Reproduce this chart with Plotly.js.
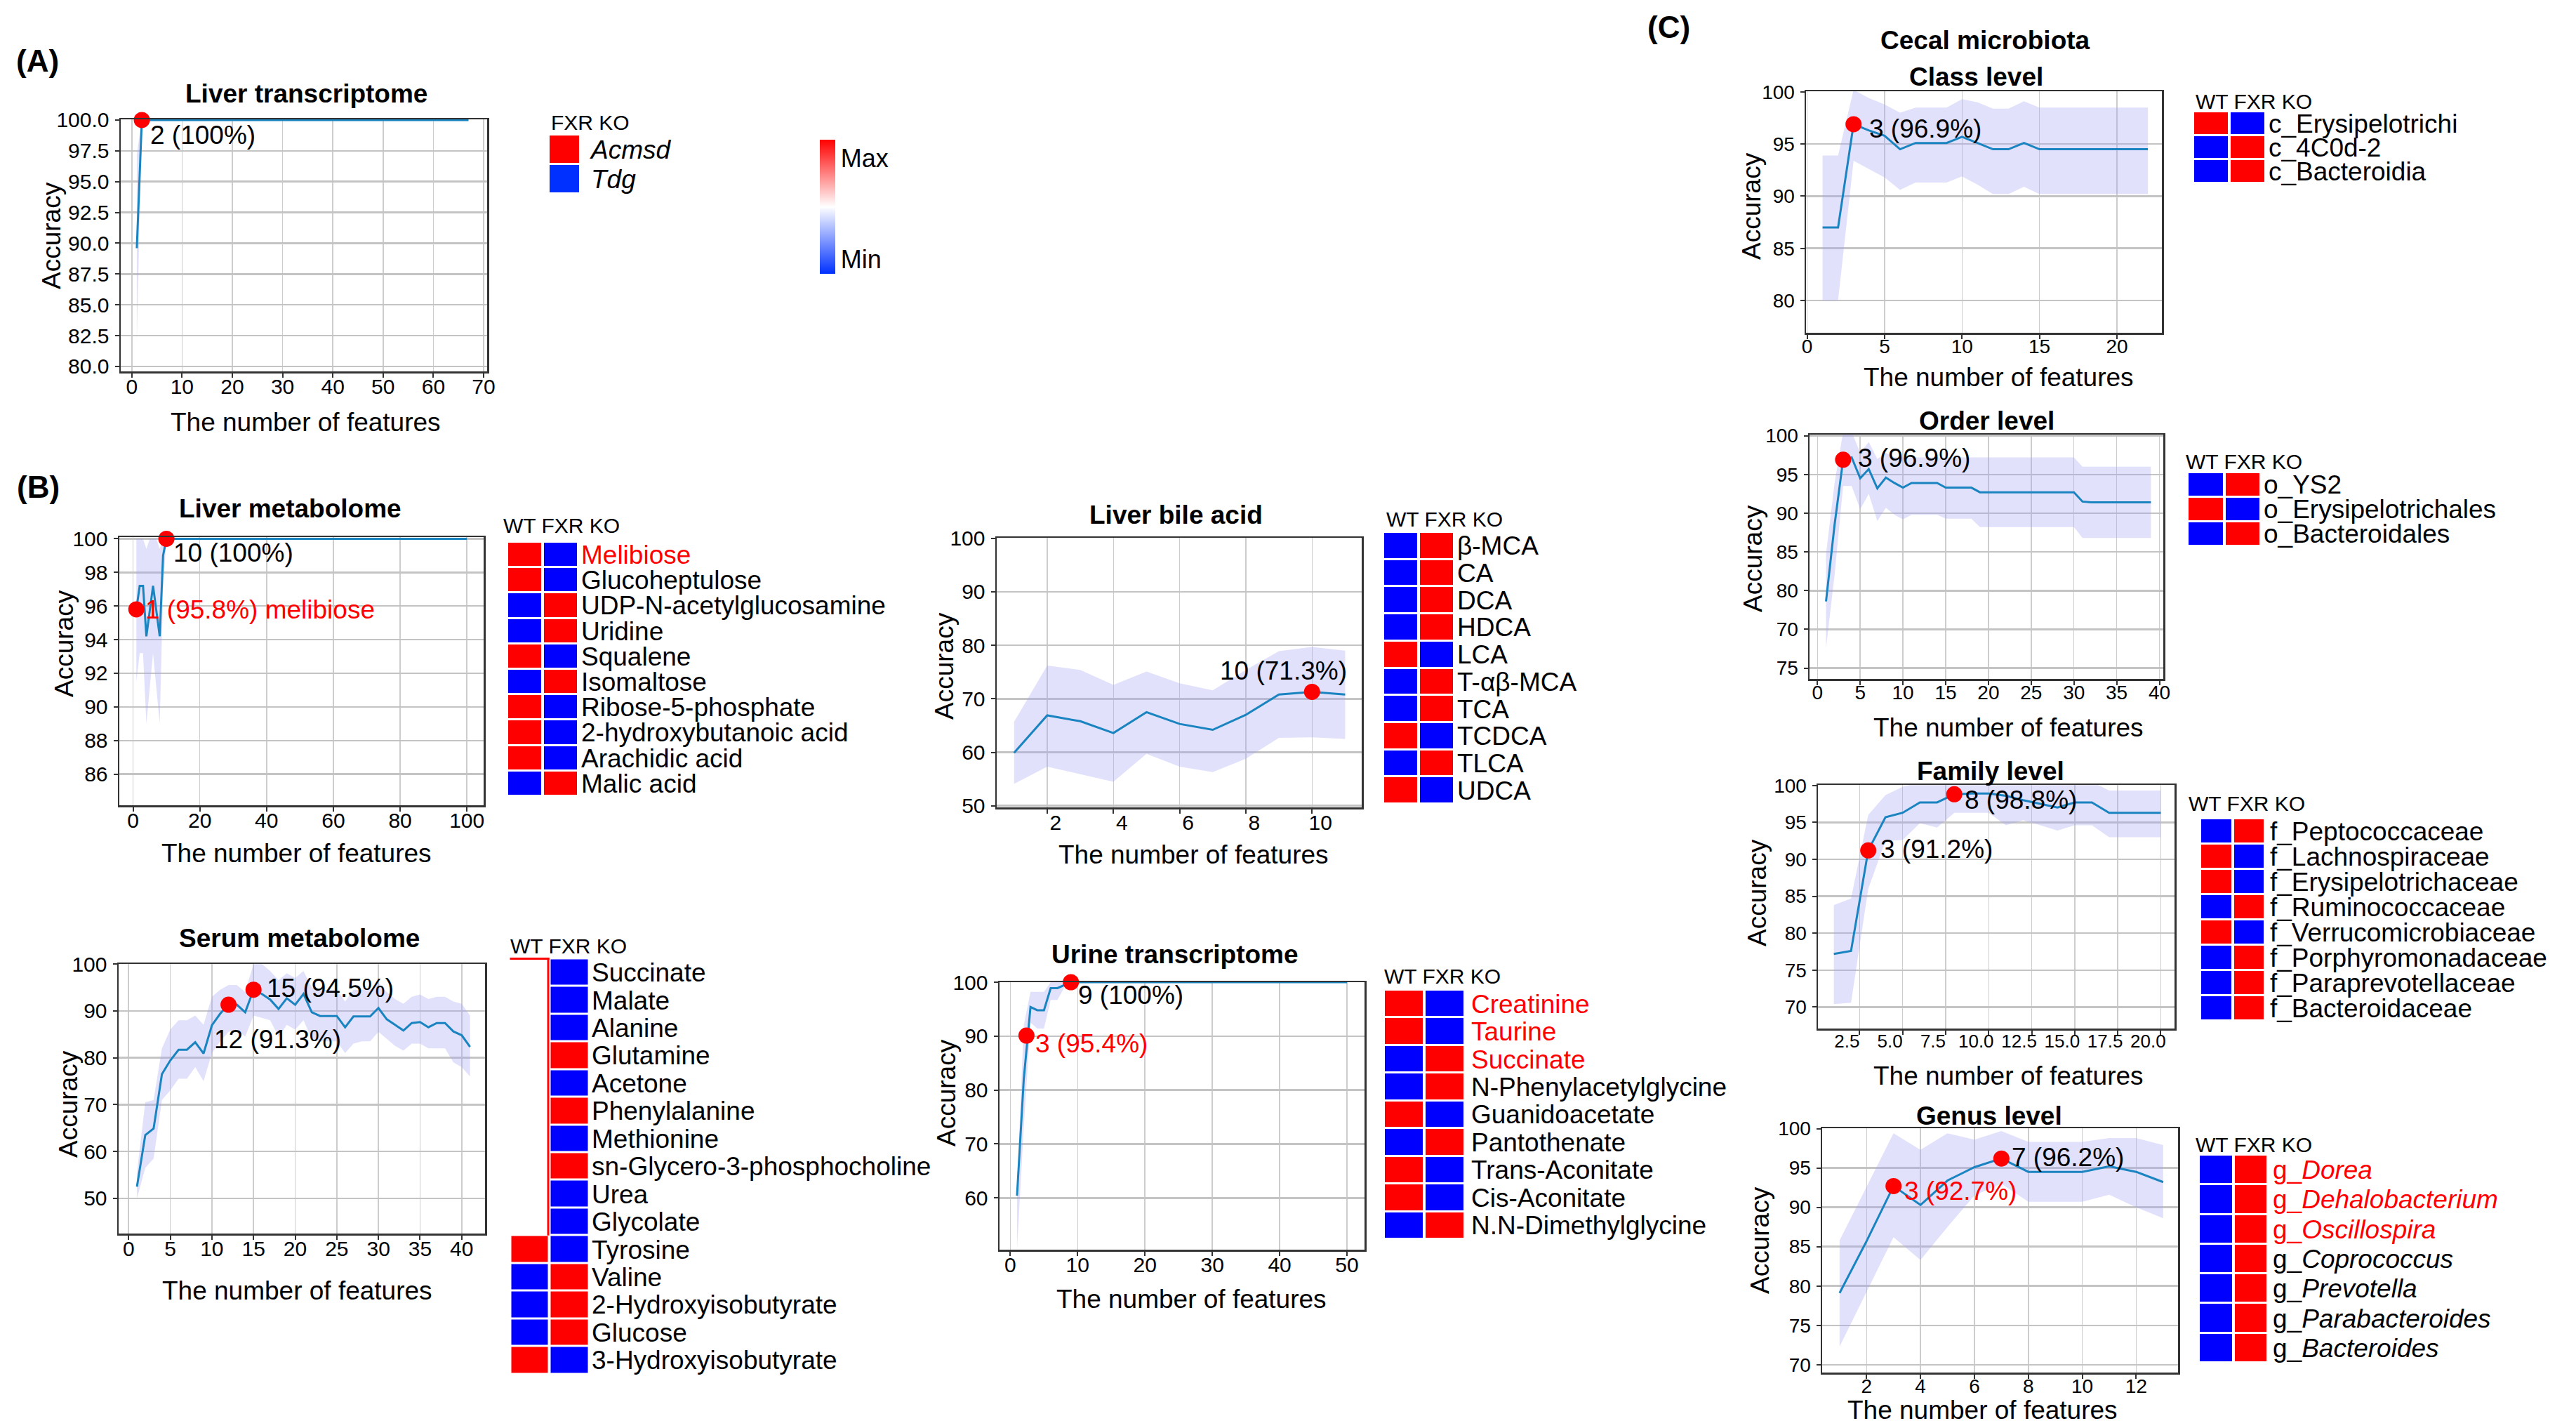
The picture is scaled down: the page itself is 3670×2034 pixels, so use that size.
<!DOCTYPE html>
<html><head><meta charset="utf-8">
<script src="https://cdn.plot.ly/plotly-3.0.1.min.js"></script>
<style>html,body{margin:0;padding:0;background:#fff}</style>
</head><body><div id="chart" style="width:3670px;height:2034px"></div>
<script>
// ===================== DATA =====================
// (A) Liver transcriptome
const liverTxX = [1,2,3,4,5,6,7,8,9,10,11,12,13,14,15,16,17,18,19,20,21,22,23,24,25,26,27,28,29,30,31,32,33,34,35,36,37,38,39,40,41,42,43,44,45,46,47,48,49,50,51,52,53,54,55,56,57,58,59,60,61,62,63,64,65,66,67];
const liverTxMean = [89.6,100,100,100,100,100,100,100,100,100,
 100,100,100,100,100,100,100,100,100,100, 100,100,100,100,100,100,100,100,100,100,
 100,100,100,100,100,100,100,100,100,100, 100,100,100,100,100,100,100,100,100,100,
 100,100,100,100,100,100,100,100,100,100, 100,100,100,100,100,100,100];
const liverTxUpper = [97.2,100,100,100,100,100,100,100,100,100,
 100,100,100,100,100,100,100,100,100,100, 100,100,100,100,100,100,100,100,100,100,
 100,100,100,100,100,100,100,100,100,100, 100,100,100,100,100,100,100,100,100,100,
 100,100,100,100,100,100,100,100,100,100, 100,100,100,100,100,100,100];
const liverTxLower = [82.0,100,100,100,100,100,100,100,100,100,
 100,100,100,100,100,100,100,100,100,100, 100,100,100,100,100,100,100,100,100,100,
 100,100,100,100,100,100,100,100,100,100, 100,100,100,100,100,100,100,100,100,100,
 100,100,100,100,100,100,100,100,100,100, 100,100,100,100,100,100,100];
const liverTxMarkX = [2];
const liverTxMarkY = [100];
const liverTxMarkText = ['2 (100%)'];
const liverTxGenes = ['Acmsd','Tdg'];
const liverTxKO = [1,0];

// (B) Liver metabolome
const liverMetX = [1,2,3,4,5,6,7,8,9,10,11,12,13,14,15,16,17,18,19,20,21,22,23,24,25,26,27,28,29,30,31,32,33,34,35,36,37,38,39,40,41,42,43,44,45,46,47,48,49,50,51,52,53,54,55,56,57,58,59,60,61,62,63,64,65,66,67,68,69,70,71,72,73,74,75,76,77,78,79,80,81,82,83,84,85,86,87,88,89,90,91,92,93,94,95,96,97,98,99,100];
const liverMetMean = [95.8,97.2,97.2,94.2,95.7,97.2,95.7,94.2,99.0,100,
 100,100,100,100,100,100,100,100,100,100, 100,100,100,100,100,100,100,100,100,100,
 100,100,100,100,100,100,100,100,100,100, 100,100,100,100,100,100,100,100,100,100,
 100,100,100,100,100,100,100,100,100,100, 100,100,100,100,100,100,100,100,100,100,
 100,100,100,100,100,100,100,100,100,100, 100,100,100,100,100,100,100,100,100,100,
 100,100,100,100,100,100,100,100,100,100];
const liverMetUpper = [100,100,100,99.4,100,100,100,99.4,100,100,
 100,100,100,100,100,100,100,100,100,100, 100,100,100,100,100,100,100,100,100,100,
 100,100,100,100,100,100,100,100,100,100, 100,100,100,100,100,100,100,100,100,100,
 100,100,100,100,100,100,100,100,100,100, 100,100,100,100,100,100,100,100,100,100,
 100,100,100,100,100,100,100,100,100,100, 100,100,100,100,100,100,100,100,100,100,
 100,100,100,100,100,100,100,100,100,100];
const liverMetLower = [91.5,93.2,93.2,89.0,91.1,93.2,91.1,89.0,97.0,100,
 100,100,100,100,100,100,100,100,100,100, 100,100,100,100,100,100,100,100,100,100,
 100,100,100,100,100,100,100,100,100,100, 100,100,100,100,100,100,100,100,100,100,
 100,100,100,100,100,100,100,100,100,100, 100,100,100,100,100,100,100,100,100,100,
 100,100,100,100,100,100,100,100,100,100, 100,100,100,100,100,100,100,100,100,100,
 100,100,100,100,100,100,100,100,100,100];
const liverMetMarkX = [1,10];
const liverMetMarkY = [95.8,100];
const liverMetMarkText = ['1 (95.8%) melibiose','10 (100%)'];
const liverMetNames = ['Melibiose','Glucoheptulose','UDP-N-acetylglucosamine','Uridine','Squalene','Isomaltose','Ribose-5-phosphate','2-hydroxybutanoic acid','Arachidic acid','Malic acid'];
const liverMetWT = [1,1,0,0,1,0,1,1,1,0];
const liverMetKO = [0,0,1,1,0,1,0,0,0,1];

// (B) Serum metabolome
const serumX = [1,2,3,4,5,6,7,8,9,10,11,12,13,14,15,16,17,18,19,20,21,22,23,24,25,26,27,28,29,30,31,32,33,34,35,36,37,38,39,40,41];
const serumMean = [52.5,63.5,64.9,76.5,79.4,81.7,81.7,83.3,80.9,86.9,89.4,91.3,91.3,89.7,94.5,93.6,92.4,90.4,92.7,91.3,93.6,89.7,88.9,88.9,88.9,86.5,88.8,88.8,88.8,90.6,88.2,87.0,85.8,87.4,87.6,86.5,87.4,87.4,85.6,84.8,82.3];
const serumUpper = [55.5,70.5,71.0,82.0,86.0,88.0,88.0,89.0,87.0,93.0,94.5,95.5,95.5,94.0,100,100,98.5,96.5,98.0,97.0,98.5,95.0,94.5,94.5,94.5,92.0,94.5,94.5,94.5,96.0,94.0,92.5,91.5,93.0,93.5,92.5,93.0,93.0,92.0,91.5,89.0];
const serumLower = [50.0,56.5,58.5,71.0,73.0,75.5,75.5,78.0,75.0,81.0,83.5,85.5,86.0,84.5,89.0,88.5,88.0,84.5,87.0,86.0,88.0,84.0,83.5,83.5,83.5,81.0,83.0,83.5,83.5,85.5,84.0,82.5,81.5,83.0,83.0,82.0,82.0,82.0,79.0,78.0,76.0];
const serumMarkX = [12,15];
const serumMarkY = [91.3,94.5];
const serumMarkText = ['12 (91.3%)','15 (94.5%)'];
const serumNames = ['Succinate','Malate','Alanine','Glutamine','Acetone','Phenylalanine','Methionine','sn-Glycero-3-phosphocholine','Urea','Glycolate','Tyrosine','Valine','2-Hydroxyisobutyrate','Glucose','3-Hydroxyisobutyrate'];
const serumWT = [null,null,null,null,null,null,null,null,null,null,1,0,0,0,1];
const serumKO = [0,0,0,1,0,1,0,1,0,0,0,1,1,1,0];

// (B) Liver bile acid
const bileX = [1,2,3,4,5,6,7,8,9,10,11];
const bileMean = [59.9,66.9,65.8,63.6,67.5,65.3,64.2,67.0,70.8,71.3,70.8];
const bileUpper = [65.7,76.2,75.4,72.6,75.1,72.9,71.6,75.4,78.9,79.7,79.0];
const bileLower = [54.1,57.3,55.9,54.5,59.7,57.3,56.3,58.8,62.7,62.8,62.5];
const bileMarkX = [10];
const bileMarkY = [71.3];
const bileMarkText = ['10 (71.3%)'];
const bileNames = ['β-MCA','CA','DCA','HDCA','LCA','T-αβ-MCA','TCA','TCDCA','TLCA','UDCA'];
const bileWT = [0,0,0,0,1,0,0,1,0,1];
const bileKO = [1,1,1,1,0,1,1,0,1,0];

// (B) Urine transcriptome
const urineX = [1,2,3,4,5,6,7,8,9,10,11,12,13,14,15,16,17,18,19,20,21,22,23,24,25,26,27,28,29,30,31,32,33,34,35,36,37,38,39,40,41,42,43,44,45,46,47,48,49,50];
const urineMean = [60.4,82.0,95.4,94.8,94.8,98.9,98.9,99.5,100,100,
 100,100,100,100,100,100,100,100,100,100, 100,100,100,100,100,100,100,100,100,100,
 100,100,100,100,100,100,100,100,100,100, 100,100,100,100,100,100,100,100,100,100];
const urineUpper = [62.0,92.0,98.2,98.2,98.2,100,100,100,100,100,
 100,100,100,100,100,100,100,100,100,100, 100,100,100,100,100,100,100,100,100,100,
 100,100,100,100,100,100,100,100,100,100, 100,100,100,100,100,100,100,100,100,100];
const urineLower = [50.5,73.0,92.5,91.4,91.4,96.7,96.7,99.0,100,100,
 100,100,100,100,100,100,100,100,100,100, 100,100,100,100,100,100,100,100,100,100,
 100,100,100,100,100,100,100,100,100,100, 100,100,100,100,100,100,100,100,100,100];
const urineMarkX = [2.4,9];
const urineMarkY = [90.1,100];
const urineMarkText = ['3 (95.4%)','9 (100%)'];
const urineNames = ['Creatinine','Taurine','Succinate','N-Phenylacetylglycine','Guanidoacetate','Pantothenate','Trans-Aconitate','Cis-Aconitate','N.N-Dimethylglycine'];
const urineWT = [1,1,0,0,1,0,1,1,0];
const urineKO = [0,0,1,1,0,1,0,0,1];

// (C) Cecal microbiota - Class
const classX = [1,2,3,4,5,6,7,8,9,10,11,12,13,14,15,16,17,18,19,20,21,22];
const classMean = [87.0,87.0,96.9,96.3,95.8,94.5,95.1,95.1,95.1,95.7,95.1,94.5,94.5,95.1,94.5,94.5,94.5,94.5,94.5,94.5,94.5,94.5];
const classUpper = [93.9,93.9,100.2,99.4,98.8,98.0,98.5,98.5,98.5,99.3,99.0,98.4,98.4,99.1,98.5,98.5,98.5,98.5,98.5,98.5,98.5,98.5];
const classLower = [80.0,80.0,93.4,92.6,91.8,90.6,91.3,91.3,91.3,91.9,91.1,90.2,90.2,90.9,90.2,90.2,90.2,90.2,90.2,90.2,90.2,90.2];
const classMarkX = [3];
const classMarkY = [96.9];
const classMarkText = ['3 (96.9%)'];
const classNames = ['c_Erysipelotrichi','c_4C0d-2','c_Bacteroidia'];
const classWT = [1,0,0];
const classKO = [0,1,1];

// (C) Order
const orderX = [1,2,3,4,5,6,7,8,9,10,11,12,13,14,15,16,17,18,19,20,21,22,23,24,25,26,27,28,29,30,31,32,33,34,35,36,37,38,39];
const orderMean = [78.6,88.5,96.9,97.2,94.5,95.7,93.2,94.6,93.9,93.3,93.9,93.9,93.9,93.9,93.3,93.3,93.3,93.3,92.7,92.7,92.7,92.7,92.7,92.7,92.7,92.7,92.7,92.7,92.7,92.7,91.5,91.4,91.4,91.4,91.4,91.4,91.4,91.4,91.4];
const orderUpper = [84.7,93.9,100.5,100.5,97.8,99.2,97.0,97.8,97.2,97.2,97.2,97.2,97.2,97.2,97.2,97.2,97.2,97.2,97.2,97.2,97.2,97.2,97.2,97.2,97.2,97.2,97.2,97.2,97.2,97.2,96.0,96.0,96.0,96.0,96.0,96.0,96.0,96.0,96.0];
const orderLower = [72.6,82.0,93.5,93.5,90.5,92.5,89.0,90.7,89.8,89.2,89.8,89.8,89.8,89.8,89.3,89.3,89.3,89.3,88.2,88.2,88.2,88.2,88.2,88.2,88.2,88.2,88.2,88.2,88.2,88.2,86.8,86.8,86.8,86.8,86.8,86.8,86.8,86.8,86.8];
const orderMarkX = [3];
const orderMarkY = [96.9];
const orderMarkText = ['3 (96.9%)'];
const orderTickVals = [70,75,80,85,90,95,100];
const orderTickText = ['75','70','80','85','90','95','100'];
const orderNames = ['o_YS2','o_Erysipelotrichales','o_Bacteroidales'];
const orderWT = [0,1,0];
const orderKO = [1,0,1];

// (C) Family
const familyX = [1,2,3,4,5,6,7,8,9,10,11,12,13,14,15,16,17,18,19,20];
const familyMean = [77.2,77.6,91.2,95.7,96.3,97.7,97.7,98.8,98.9,98.9,98.6,98.0,97.5,97.0,97.7,97.7,96.3,96.3,96.3,96.3];
const familyUpper = [83.8,84.7,96.0,98.7,99.8,100.5,100.5,100.5,100.5,100.5,100.5,100.5,100.5,100.5,100.5,100.5,99.3,99.3,99.3,99.3];
const familyLower = [70.4,70.6,86.0,92.5,92.6,94.9,94.3,96.3,96.3,96.3,94.6,95.3,94.6,93.9,94.6,94.6,93.0,93.0,93.0,93.0];
const familyMarkX = [3,8];
const familyMarkY = [91.2,98.8];
const familyMarkText = ['3 (91.2%)','8 (98.8%)'];
const familyNames = ['f_Peptococcaceae','f_Lachnospiraceae','f_Erysipelotrichaceae','f_Ruminococcaceae','f_Verrucomicrobiaceae','f_Porphyromonadaceae','f_Paraprevotellaceae','f_Bacteroidaceae'];
const familyWT = [0,1,1,0,1,0,0,0];
const familyKO = [1,0,0,1,0,1,1,1];

// (C) Genus
const genusX = [1,2,3,4,5,6,7,8,9,10,11,12,13];
const genusMean = [79.1,85.7,92.7,90.3,93.4,95.1,96.2,94.5,94.5,94.5,95.2,94.5,93.2];
const genusUpper = [85.8,92.6,99.4,97.3,99.4,98.6,99.7,98.3,98.3,98.3,98.8,98.8,97.9];
const genusLower = [72.3,79.2,86.2,83.3,87.5,91.5,93.0,90.7,90.7,90.7,91.6,90.0,88.6];
const genusMarkX = [3,7];
const genusMarkY = [92.7,96.2];
const genusMarkText = ['3 (92.7%)','7 (96.2%)'];
const genusNames = ['Dorea','Dehalobacterium','Oscillospira','Coprococcus','Prevotella','Parabacteroides','Bacteroides'];
const genusWT = [0,0,0,0,0,0,0];
const genusKO = [1,1,1,1,1,1,1];

const groupCols = ['WT','FXR KO'];

// ===================== LAYOUT / DRAWING =====================
const W = 3670, H = 2034;
const FONT = 'Liberation Sans, Arial, Helvetica, sans-serif';
const RED = '#ff0000', BLUE = '#0000ff', BLACK = '#000000';
const LINE = '#1a84c0', BAND = 'rgba(165,165,245,0.33)';

const traces = [], annotations = [], shapes = [];
const layout = {
  width: W, height: H, margin: {l:0, r:0, t:0, b:0},
  paper_bgcolor: '#ffffff', plot_bgcolor: '#ffffff', showlegend: false,
  font: {family: FONT, color: BLACK, size: 30},
  annotations: annotations, shapes: shapes
};
let nAx = 0;
function newAxes() {
  nAx++;
  const s = nAx === 1 ? '' : String(nAx);
  return {xa: 'x' + s, ya: 'y' + s, xk: 'xaxis' + s, yk: 'yaxis' + s};
}
const domX = (l, r) => [l / W, r / W];
const domY = (t, b) => [1 - b / H, 1 - t / H];

function text(t, cx, cy, size, o) {
  o = o || {};
  annotations.push({xref: 'paper', yref: 'paper', x: cx / W, y: 1 - cy / H, text: t, showarrow: false,
    xanchor: o.anchor || 'center', yanchor: 'middle', textangle: o.angle || 0,
    font: {family: FONT, size: size, color: o.color || BLACK}});
}

function linePanel(p) {
  const a = newAxes();
  const base = {showline: true, mirror: true, linecolor: '#333333', linewidth: 2.5,
    ticks: 'outside', ticklen: 6, tickwidth: 2, tickcolor: '#333333', zeroline: false,
    showgrid: true, tickangle: 0, fixedrange: true,
    tickfont: {family: FONT, size: p.tick || 30, color: BLACK}};
  layout[a.xk] = Object.assign({}, base, {domain: domX(p.box[0], p.box[1]), range: p.xr, anchor: a.ya,
    tickmode: 'linear', tick0: p.xt[0], dtick: p.xt[1], gridcolor: '#cdcdcd', gridwidth: 1.5,
    ticklabelstandoff: -13, ticklabelshift: p.xshift || 0, tickformat: p.xfmt || ''},
    p.xtick ? {tickfont: {family: FONT, size: p.xtick, color: BLACK}} : {});
  const ya = Object.assign({}, base, {domain: domY(p.box[2], p.box[3]), range: p.yr, anchor: a.xa,
    gridcolor: '#c4c4c4', gridwidth: 2.5, ticklabelstandoff: 2, tickformat: p.yfmt || ''});
  if (p.yvals) { ya.tickmode = 'array'; ya.tickvals = p.yvals; ya.ticktext = p.ytext; }
  else { ya.tickmode = 'linear'; ya.tick0 = p.yt[0]; ya.dtick = p.yt[1]; }
  layout[a.yk] = ya;

  traces.push({type: 'scatter', mode: 'lines', x: p.x, y: p.lo, xaxis: a.xa, yaxis: a.ya,
    line: {width: 0, color: BAND}, hoverinfo: 'skip'});
  traces.push({type: 'scatter', mode: 'lines', x: p.x, y: p.up, xaxis: a.xa, yaxis: a.ya,
    fill: 'tonexty', fillcolor: BAND, line: {width: 0, color: BAND}, hoverinfo: 'skip'});
  traces.push({type: 'scatter', mode: 'lines', x: p.x, y: p.m, xaxis: a.xa, yaxis: a.ya,
    line: {width: 3, color: LINE}});
  traces.push({type: 'scatter', mode: 'markers', x: p.mx, y: p.my, xaxis: a.xa, yaxis: a.ya,
    cliponaxis: false, marker: {size: 23, color: RED}});
  p.mt.forEach((t, i) => {
    annotations.push({xref: a.xa, yref: a.ya, x: p.mx[i], y: p.my[i], text: t, showarrow: false,
      xanchor: 'left', yanchor: 'middle', xshift: p.lab[i][0], yshift: -p.lab[i][1],
      font: {family: FONT, size: 37, color: p.lab[i][2]}});
  });
  text('<b>' + p.title[0] + '</b>', p.title[1], p.title[2], 37);
  text('Accuracy', p.acc[0], p.acc[1], 37, {angle: -90});
  text('The number of features', p.xtitle[0], p.xtitle[1], 37);
}

function heatPanel(h) {
  const a = newAxes();
  const cols = h.cols;
  const z = h.names.map((_, i) => h.vals.map(v => v[i]));
  layout[a.xk] = {domain: domX(h.box[0], h.box[1]), anchor: a.ya, type: 'category', showticklabels: false,
    showgrid: false, zeroline: false, showline: false, ticks: '', fixedrange: true};
  layout[a.yk] = {domain: domY(h.box[2], h.box[3]), anchor: a.xa, side: 'right', type: 'category',
    autorange: 'reversed', showgrid: false, zeroline: false, showline: false, ticks: '', fixedrange: true,
    tickmode: 'array', tickvals: h.names, ticktext: h.labels, ticklabelstandoff: h.standoff || 3,
    tickfont: {family: FONT, size: 37, color: BLACK}};
  const tr = {type: 'heatmap', x: cols, y: h.names, z: z, xaxis: a.xa, yaxis: a.ya, zmin: 0, zmax: 1,
    colorscale: h.scale || [[0, BLUE], [1, RED]], showscale: false, xgap: 4, ygap: 3, hoverinfo: 'skip'};
  if (h.colorbar) { tr.showscale = true; tr.colorbar = h.colorbar; }
  traces.push(tr);
  if (h.header) text(h.header[0], h.header[1], h.header[2], 30, {anchor: 'left'});
  return a;
}

const redSpan = s => '<span style="color:#ff0000">' + s + '</span>';

// ---- Panel letters
text('<b>(A)</b>', 21, 87, 44, {anchor: 'left'});
text('<b>(B)</b>', 22, 694, 44, {anchor: 'left'});
text('<b>(C)</b>', 2345, 38, 44, {anchor: 'left'});
text('<b>Cecal microbiota</b>', 2828, 57, 37);

// ---- Line panels
linePanel({box: [172, 694, 170, 529], xr: [-2.2, 70.7], yr: [79.6, 100.05], xt: [0, 10], yt: [80, 2.5], yfmt: '.1f',
  x: liverTxX, m: liverTxMean, up: liverTxUpper, lo: liverTxLower, mx: liverTxMarkX, my: liverTxMarkY, mt: liverTxMarkText,
  lab: [[10, 22, BLACK]], title: ['Liver transcriptome', 436, 133], acc: [73, 336], xtitle: [435, 602]});
linePanel({box: [170, 689, 765, 1147], xr: [-4.1, 105], yr: [84.15, 100.1], xt: [0, 20], yt: [0, 2],
  x: liverMetX, m: liverMetMean, up: liverMetUpper, lo: liverMetLower, mx: liverMetMarkX, my: liverMetMarkY, mt: liverMetMarkText,
  lab: [[11, 1, RED], [8, 20, BLACK]], title: ['Liver metabolome', 413, 724], acc: [91, 917], xtitle: [422, 1215]});
linePanel({box: [169, 691, 1373, 1757], xr: [-1.2, 42.8], yr: [42.5, 100], xt: [0, 5], yt: [0, 10],
  x: serumX, m: serumMean, up: serumUpper, lo: serumLower, mx: serumMarkX, my: serumMarkY, mt: serumMarkText,
  lab: [[-23, 49, BLACK], [17, -2, BLACK]], title: ['Serum metabolome', 426, 1336], acc: [97, 1573], xtitle: [423, 1838]});
linePanel({box: [1420, 1940, 766, 1150], xr: [0.475, 11.5], yr: [49.7, 100.1], xt: [0, 2], yt: [0, 10], xshift: 12,
  x: bileX, m: bileMean, up: bileUpper, lo: bileLower, mx: bileMarkX, my: bileMarkY, mt: bileMarkText,
  lab: [[-133, -30, BLACK]], title: ['Liver bile acid', 1675, 734], acc: [1345, 949], xtitle: [1700, 1217]});
linePanel({box: [1424, 1944, 1399, 1780], xr: [-1.6, 52.6], yr: [50.4, 100], xt: [0, 10], yt: [0, 10],
  x: urineX, m: urineMean, up: urineUpper, lo: urineLower, mx: urineMarkX, my: urineMarkY, mt: urineMarkText,
  lab: [[11, 11, RED], [8, 18, BLACK]], title: ['Urine transcriptome', 1674, 1359], acc: [1348, 1557], xtitle: [1697, 1850]});
linePanel({box: [2573, 3080, 130, 474], xr: [-0.07, 22.9], yr: [76.9, 100.06], xt: [0, 5], yt: [0, 5], tick: 28,
  x: classX, m: classMean, up: classUpper, lo: classLower, mx: classMarkX, my: classMarkY, mt: classMarkText,
  lab: [[20, 7, BLACK]], title: ['Class level', 2815, 110], acc: [2495, 294], xtitle: [2847, 537]});
linePanel({box: [2578, 3082, 619, 967], xr: [-0.93, 40.45], yr: [68.6, 100.15], xt: [0, 5], yvals: orderTickVals, ytext: orderTickText, tick: 28,
  x: orderX, m: orderMean, up: orderUpper, lo: orderLower, mx: orderMarkX, my: orderMarkY, mt: orderMarkText,
  lab: [[19, -2, BLACK]], title: ['Order level', 2830, 600], acc: [2497, 796], xtitle: [2861, 1036]});
linePanel({box: [2590, 3098, 1118, 1465], xr: [0.076, 20.8], yr: [67.1, 100.07], xt: [0, 2.5], yt: [0, 5], tick: 28, xtick: 26, xfmt: '.1f', xshift: -18,
  x: familyX, m: familyMean, up: familyUpper, lo: familyLower, mx: familyMarkX, my: familyMarkY, mt: familyMarkText,
  lab: [[15, -2, BLACK], [13, 8, BLACK]], title: ['Family level', 2836, 1098], acc: [2503, 1272], xtitle: [2861, 1532]});
linePanel({box: [2596, 3103, 1607, 1955], xr: [0.353, 13.55], yr: [69.0, 100.05], xt: [0, 2], yt: [0, 5], tick: 28,
  x: genusX, m: genusMean, up: genusUpper, lo: genusLower, mx: genusMarkX, my: genusMarkY, mt: genusMarkText,
  lab: [[13, 7, RED], [13, -2, BLACK]], title: ['Genus level', 2834, 1589], acc: [2507, 1767], xtitle: [2824, 2008]});

// ---- Heatmaps
heatPanel({box: [781, 827, 192, 276], cols: ['FXR KO'], names: liverTxGenes, vals: [liverTxKO],
  labels: liverTxGenes.map(s => '<i>' + s + '</i>'), standoff: 14, header: ['FXR KO', 783, 175],
  scale: [[0, '#0030ff'], [0.5, '#ffffff'], [1, '#ff0000']],
  colorbar: {x: 1168 / W, xanchor: 'left', y: 1 - 199 / H, yanchor: 'top', len: 191, lenmode: 'pixels',
    thickness: 22, thicknessmode: 'pixels', outlinewidth: 0, xpad: 0, ypad: 0, ticks: '',
    tickmode: 'array', tickvals: [0.86, 0.11], ticktext: ['Max', 'Min'], tickfont: {family: FONT, size: 36, color: BLACK}}});
heatPanel({box: [722, 824, 772, 1134], cols: groupCols, names: liverMetNames, vals: [liverMetWT, liverMetKO],
  labels: liverMetNames.map((s, i) => i === 0 ? redSpan(s) : s), header: ['WT FXR KO', 715, 748]});
const serumAx = heatPanel({box: [725, 839, 1364, 1957], cols: groupCols, names: serumNames, vals: [serumWT, serumKO],
  labels: serumNames, header: ['WT FXR KO', 725, 1347]});
const serumBlank = serumWT.filter(v => v === null).length;
shapes.push({type: 'line', xref: serumAx.xa, yref: serumAx.ya, x0: -0.5, x1: 0.5, y0: -0.5, y1: -0.5, line: {color: RED, width: 3}});
shapes.push({type: 'line', xref: serumAx.xa, yref: serumAx.ya, x0: 0.47, x1: 0.47, y0: -0.5, y1: serumBlank - 0.5, line: {color: RED, width: 3}});
heatPanel({box: [1970, 2072, 758, 1145], cols: groupCols, names: bileNames, vals: [bileWT, bileKO],
  labels: bileNames, header: ['WT FXR KO', 1973, 739]});
heatPanel({box: [1971, 2087, 1410, 1765], cols: groupCols, names: urineNames, vals: [urineWT, urineKO],
  labels: urineNames.map((s, i) => i < 3 ? redSpan(s) : s), standoff: 8, header: ['WT FXR KO', 1970, 1390]});
heatPanel({box: [3124, 3228, 159, 261], cols: groupCols, names: classNames, vals: [classWT, classKO],
  labels: classNames, header: ['WT FXR KO', 3126, 145]});
heatPanel({box: [3116, 3221, 673, 778], cols: groupCols, names: orderNames, vals: [orderWT, orderKO],
  labels: orderNames, header: ['WT FXR KO', 3112, 658]});
heatPanel({box: [3134, 3227, 1166, 1454], cols: groupCols, names: familyNames, vals: [familyWT, familyKO],
  labels: familyNames, standoff: 6, header: ['WT FXR KO', 3116, 1144]});
heatPanel({box: [3132, 3231, 1645, 1941], cols: groupCols, names: genusNames, vals: [genusWT, genusKO],
  labels: genusNames.map((s, i) => i < 3 ? redSpan('g_<i>' + s + '</i>') : 'g_<i>' + s + '</i>'), standoff: 6,
  header: ['WT FXR KO', 3126, 1630]});

Plotly.newPlot('chart', traces, layout, {staticPlot: true, displayModeBar: false});
</script></body></html>
